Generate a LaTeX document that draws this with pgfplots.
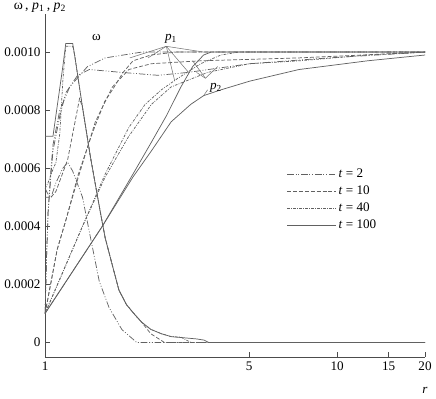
\documentclass[border=0pt]{standalone}
\usepackage{fontspec}
\setmainfont{Liberation Serif}
\usepackage{pgfplots}
\pgfplotsset{compat=1.18}
\tikzset{
  tA/.style={black!62, line width=0.55pt, dash pattern=on 5pt off 1.4pt on 0.7pt off 1.4pt on 0.7pt off 1.4pt},
  tB/.style={black!62, line width=0.55pt, dash pattern=on 3pt off 1.5pt},
  tC/.style={black!62, line width=0.55pt, dash pattern=on 2pt off 1pt on 0.6pt off 1pt},
  tD/.style={black!62, line width=0.55pt},
  ann/.style={black!55, line width=0.4pt},
}
\begin{document}
\begin{tikzpicture}
\begin{axis}[
  scale only axis, width=289.5pt, height=261pt,
  xmode=log, xmin=1, xmax=20, ymin=-0.00005, ymax=0.00113,
  axis x line*=bottom, axis y line*=left,
  axis line style={-, black!70, line width=0.6pt},
  xtick={1,5,10,15,20}, xticklabels={1,5,10,15,20},
  ytick={0,0.0002,0.0004,0.0006,0.0008,0.001},
  yticklabels={0,0.0002,0.0004,0.0006,0.0008,0.0010},
  scaled y ticks=false, tick align=inside, major tick length=3.5pt,
  minor tick num=0, tick style={black!70, line width=0.5pt},
  tick label style={font=\fontsize{10}{12}\selectfont},
  legend style={draw=none, fill=none, at={(rel axis cs:0.625,0.565)}, anchor=north west,
     row sep=0.8pt, font=\fontsize{10}{12}\selectfont, cells={anchor=west}},
  legend image code/.code={\draw[#1] (0pt,0pt) -- (37pt,0pt);},
  clip=false,
]
\addlegendimage{tA}\addlegendentry{\textit{t} = 2}
\addlegendimage{tB}\addlegendentry{\textit{t} = 10}
\addlegendimage{tC}\addlegendentry{\textit{t} = 40}
\addlegendimage{tD}\addlegendentry{\textit{t} = 100}

% ---------- omega ----------
% t = 100
\addplot[tD] coordinates {(1,0.00071)(1.064,0.00071)(1.106,0.00083)(1.150,0.00095)(1.177,0.00103)(1.243,0.00103)(1.262,0.00099)(1.343,0.00081)(1.429,0.00064)(1.545,0.00045)(1.606,0.00036)(1.695,0.00027)(1.790,0.00018)(1.90,0.00013)(2.011,0.00010)(2.139,0.00007)(2.3,0.000045)(2.5,0.00003)(2.7,0.00002)(2.986,0.000016)(3.3,0.000012)(3.5,0.000008)(3.63,0)(20,0)};
% t = 40
\addplot[tC] coordinates {(1,0.00053)(1.024,0.00055)(1.048,0.00058)(1.089,0.00062)(1.123,0.00072)(1.150,0.00090)(1.177,0.00102)(1.243,0.00102)(1.262,0.00099)(1.343,0.00081)(1.429,0.00064)(1.545,0.00045)(1.606,0.00036)(1.695,0.00027)(1.790,0.00018)(1.90,0.00013)(2.011,0.00010)(2.139,0.00007)(2.3,0.000045)(2.5,0.00003)(2.7,0.00002)(2.918,0.000018)(3.153,0)(20,0)};
% t = 10
\addplot[tB] coordinates {(1,0.0005)(1.048,0.0005)(1.089,0.00052)(1.195,0.00063)(1.312,0.00084)(1.343,0.00081)(1.429,0.00064)(1.545,0.00045)(1.606,0.00036)(1.695,0.00027)(1.790,0.00018)(1.90,0.00013)(2.011,0.00010)(2.139,0.00007)(2.3,0.00003)(2.56,0)(20,0)};
% t = 2
\addplot[tA] coordinates {(1,0.00053)(1.024,0.00051)(1.048,0.0005)(1.089,0.00055)(1.150,0.0006)(1.195,0.00062)(1.243,0.00059)(1.343,0.0005)(1.418,0.00038)(1.533,0.00021)(1.656,0.00012)(1.833,0.000044)(2.059,0)(20,0)};

% ---------- p1, p2 ----------
% t = 2
\addplot[tA] coordinates {(1,0.0001)(1.012,0.0003)(1.024,0.00045)(1.048,0.0006)(1.064,0.00068)(1.123,0.0008)(1.214,0.00088)(1.396,0.00095)(1.606,0.00098)(2.139,0.001)(20,0.001)};
\addplot[tA] coordinates {(1,0.0001)(1.012,0.0003)(1.024,0.00045)(1.048,0.00058)(1.064,0.00066)(1.123,0.00078)(1.177,0.00086)(1.292,0.00092)(1.418,0.00094)(1.833,0.00093)(2.441,0.00092)(3.081,0.00093)(5.02,0.00096)(9.34,0.00098)(20,0.001)};
% t = 10
\addplot[tB] coordinates {(1,0.0001)(1.1,0.00032)(1.177,0.00042)(1.3,0.00058)(1.45,0.00072)(1.6,0.00083)(1.7,0.00087)(1.85,0.00093)(2.0,0.00097)(2.3,0.00099)(2.8,0.001)(20,0.001)};
\addplot[tB] coordinates {(1,0.0001)(1.1,0.00032)(1.177,0.00042)(1.3,0.00057)(1.486,0.00076)(1.7,0.00088)(1.934,0.00094)(2.31,0.00096)(3.4,0.00097)(7.4,0.00098)(20,0.001)};
% t = 40
\addplot[tC] coordinates {(1,0.0001)(1.343,0.0004)(1.606,0.00058)(1.934,0.00074)(2.2,0.00082)(2.5,0.00087)(2.85,0.00091)(3.409,0.00096)(4.0,0.00099)(4.6,0.001)(20,0.001)};
\addplot[tC] coordinates {(1,0.0001)(1.343,0.0004)(1.606,0.00057)(1.934,0.00071)(2.313,0.00082)(2.7,0.00088)(3.6,0.00093)(5,0.00096)(7.4,0.00097)(12.7,0.00099)(20,0.001)};
% t = 100
\addplot[tD] coordinates {(1,0.0001)(1.57,0.0004)(2.0,0.00058)(2.313,0.00069)(2.6,0.00078)(2.918,0.00088)(3.2,0.00095)(3.49,0.00099)(3.7,0.001)(20,0.001)};
\addplot[tD] coordinates {(1,0.0001)(1.57,0.0004)(2.0,0.00057)(2.313,0.00066)(2.702,0.00076)(3.153,0.00082)(3.49,0.00085)(4.0,0.00087)(5.02,0.0009)(7.4,0.00094)(12.7,0.00097)(20,0.00099)};

% ---------- annotations ----------
\node[anchor=base] at (axis cs:1.50,0.00104) {\fontsize{10}{12}\selectfont ω};
\node[anchor=base] at (axis cs:2.70,0.00104) {\fontsize{10}{12}\selectfont\textit{p}\textsubscript{1}};
\node[anchor=base] at (axis cs:3.85,0.00087) {\fontsize{10}{12}\selectfont\textit{p}\textsubscript{2}};
\draw[ann] (axis cs:2.60,0.00102) -- (axis cs:1.95,0.00098);
\draw[ann] (axis cs:2.60,0.00102) -- (axis cs:2.25,0.00098);
\draw[ann] (axis cs:2.60,0.00102) -- (axis cs:2.78,0.00090);
\draw[ann] (axis cs:2.60,0.00102) -- (axis cs:3.10,0.00093);
\draw[ann] (axis cs:2.60,0.00102) -- (axis cs:3.50,0.00100);
\draw[ann] (axis cs:3.54,0.00091) -- (axis cs:3.20,0.00097);
\draw[ann] (axis cs:3.54,0.00091) -- (axis cs:3.30,0.00093);
\draw[ann] (axis cs:3.54,0.00091) -- (axis cs:3.90,0.00095);
\draw[ann] (axis cs:3.60,0.00087) -- (axis cs:3.49,0.00085);
\node[anchor=base west, inner sep=2pt] at (rel axis cs:0,1) [xshift=-26pt, yshift=4pt] {\fontsize{10.5}{12}\selectfont ω\,, \textit{p}\textsubscript{1}\,, \textit{p}\textsubscript{2}};
\node[anchor=base] at (rel axis cs:1,0) [yshift=-28pt] {\fontsize{10}{12}\selectfont\textit{r}};
\end{axis}
\end{tikzpicture}
\end{document}
